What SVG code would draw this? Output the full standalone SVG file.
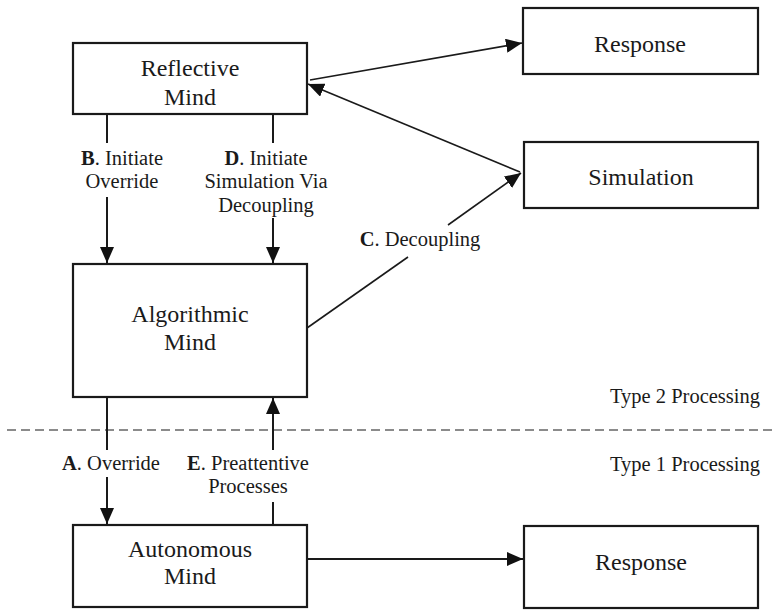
<svg xmlns="http://www.w3.org/2000/svg" width="773" height="610" viewBox="0 0 773 610">
<style>
.box{fill:#fff;stroke:#1a1a1a;stroke-width:2.2}
.t{font-family:"Liberation Serif","Times New Roman",serif;font-size:24px;fill:#1a1a1a;text-anchor:middle}
.l{font-family:"Liberation Serif","Times New Roman",serif;font-size:20.5px;fill:#1a1a1a;text-anchor:middle}
.r{font-family:"Liberation Serif","Times New Roman",serif;font-size:20.5px;fill:#1a1a1a;text-anchor:end}
.c{fill:none;stroke:#1a1a1a;stroke-width:2}
.d{fill:none;stroke:#1a1a1a;stroke-width:1.6}
</style>
<defs>
<marker id="ah" markerUnits="userSpaceOnUse" markerWidth="17" markerHeight="14" refX="16" refY="7" orient="auto">
<path d="M0,0 L16,7 L0,14 z" fill="#111"/>
</marker>
</defs>
<rect width="773" height="610" fill="#fff"/>
<line x1="7" y1="430" x2="773" y2="430" stroke="#666" stroke-width="1.6" stroke-dasharray="9 5"/>
<text class="r" x="760" y="403">Type 2 Processing</text>
<text class="r" x="760" y="471">Type 1 Processing</text>
<g id="connectors">
<line class="c" x1="107" y1="114" x2="107" y2="143"/>
<line class="c" x1="107" y1="197" x2="107" y2="263" marker-end="url(#ah)"/>
<line class="c" x1="273" y1="114" x2="273" y2="143"/>
<line class="c" x1="273" y1="218" x2="273" y2="263" marker-end="url(#ah)"/>
<line class="d" x1="310" y1="80" x2="522" y2="43" marker-end="url(#ah)"/>
<line class="d" x1="520" y1="172" x2="308" y2="84" marker-end="url(#ah)"/>
<line class="d" x1="307" y1="328" x2="408" y2="257"/>
<line class="d" x1="448" y1="225" x2="521" y2="173" marker-end="url(#ah)"/>
<line class="c" x1="107" y1="397" x2="107" y2="450"/>
<line class="c" x1="107" y1="477" x2="107" y2="524" marker-end="url(#ah)"/>
<line class="c" x1="273" y1="450" x2="273" y2="398" marker-end="url(#ah)"/>
<line class="c" x1="273" y1="525" x2="273" y2="502"/>
<line class="c" x1="307" y1="559" x2="523" y2="559" marker-end="url(#ah)"/>
<text class="l" x="122" y="165"><tspan font-weight="bold">B</tspan>. Initiate</text>
<text class="l" x="122" y="188">Override</text>
<text class="l" x="266" y="165"><tspan font-weight="bold">D</tspan>. Initiate</text>
<text class="l" x="266" y="188">Simulation Via</text>
<text class="l" x="266" y="212">Decoupling</text>
<text class="l" x="420" y="246"><tspan font-weight="bold">C</tspan>. Decoupling</text>
<text class="l" x="111" y="470"><tspan font-weight="bold">A</tspan>. Override</text>
<text class="l" x="248" y="470"><tspan font-weight="bold">E</tspan>. Preattentive</text>
<text class="l" x="248" y="493">Processes</text>
</g>
<g id="reflective">
<rect class="box" x="73" y="43" width="234" height="71"/>
<text class="t" x="190" y="76">Reflective</text>
<text class="t" x="190" y="105">Mind</text>
</g>
<g id="response-top">
<rect class="box" x="523" y="8" width="235" height="66"/>
<text class="t" x="640" y="52">Response</text>
</g>
<g id="simulation">
<rect class="box" x="524" y="142" width="234" height="66"/>
<text class="t" x="641" y="185">Simulation</text>
</g>
<g id="algorithmic">
<rect class="box" x="73" y="264" width="234" height="133"/>
<text class="t" x="190" y="322">Algorithmic</text>
<text class="t" x="190" y="350">Mind</text>
</g>
<g id="autonomous">
<rect class="box" x="73" y="525" width="234" height="82"/>
<text class="t" x="190" y="557">Autonomous</text>
<text class="t" x="190" y="584">Mind</text>
</g>
<g id="response-bottom">
<rect class="box" x="524" y="526" width="234" height="82"/>
<text class="t" x="641" y="570">Response</text>
</g>
</svg>
